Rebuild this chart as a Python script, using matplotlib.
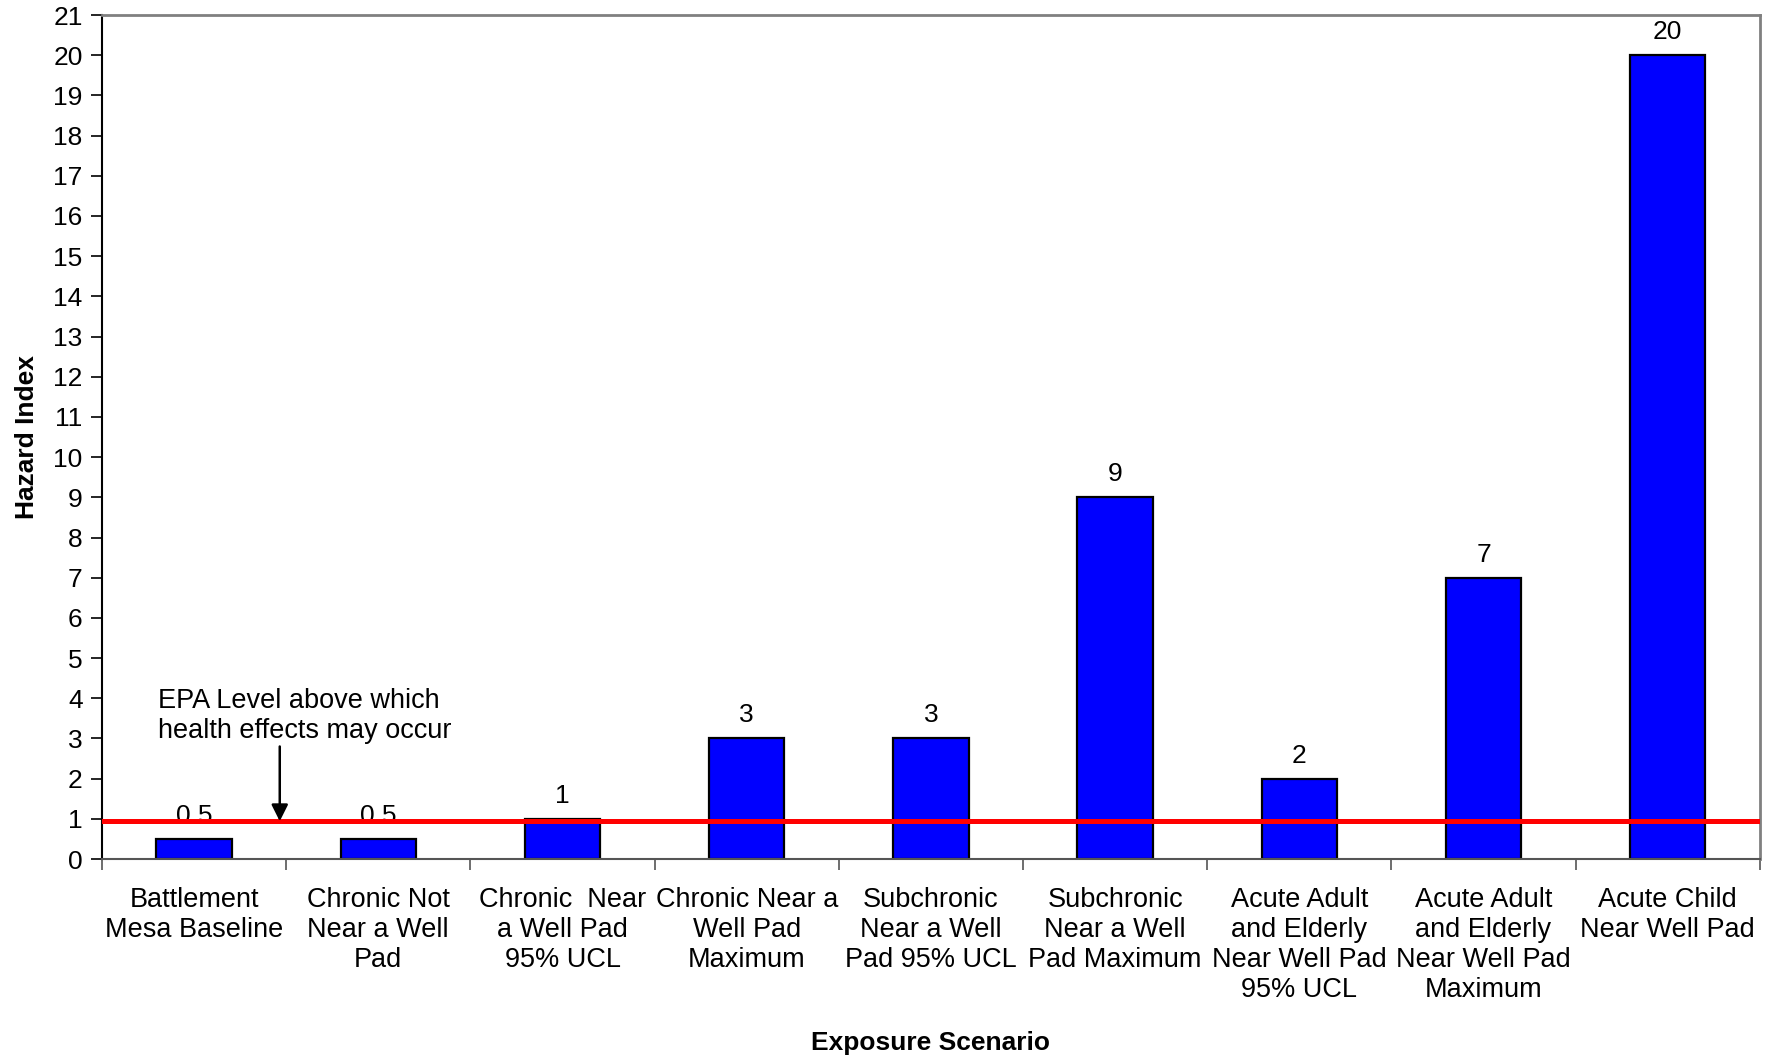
import matplotlib
matplotlib.use("Agg")
import matplotlib.pyplot as plt

plt.rcParams['font.family'] = ['Liberation Sans', 'DejaVu Sans']

scenarios = [
    "Battlement\nMesa Baseline",
    "Chronic Not\nNear a Well\nPad",
    "Chronic  Near\na Well Pad\n95% UCL",
    "Chronic Near a\nWell Pad\nMaximum",
    "Subchronic\nNear a Well\nPad 95% UCL",
    "Subchronic\nNear a Well\nPad Maximum",
    "Acute Adult\nand Elderly\nNear Well Pad\n95% UCL",
    "Acute Adult\nand Elderly\nNear Well Pad\nMaximum",
    "Acute Child\nNear Well Pad",
]
hazard_index = [0.5, 0.5, 1, 3, 3, 9, 2, 7, 20]
value_labels = ["0.5", "0.5", "1", "3", "3", "9", "2", "7", "20"]
epa_level = 0.94
y_ticks = list(range(0, 22))

fig = plt.figure(figsize=(17.74, 10.60), dpi=100)
ax = fig.add_axes([0.0575, 0.1896, 0.9345, 0.7962])

x = list(range(len(scenarios)))
ax.bar(x, hazard_index, width=0.41, color="#0000FF", edgecolor="black",
       linewidth=1.6, zorder=2)

for xi, v, lab in zip(x, hazard_index, value_labels):
    ax.annotate(lab, (xi, v), xytext=(0, 8), textcoords="offset points",
                ha="center", va="bottom", fontsize=19, zorder=3)

ax.axhline(epa_level, color="#FF0000", linewidth=3.6, zorder=4)

# Arrow pointing from the note down to the EPA reference line
ax.annotate("", xy=(0.465, epa_level), xytext=(0.465, 2.8),
            arrowprops=dict(arrowstyle="-|>,head_length=1.0,head_width=0.5",
                            color="black", linewidth=1.8, shrinkA=0, shrinkB=0),
            zorder=5)
ax.text(-0.195, 4.25, "EPA Level above which\nhealth effects may occur",
        ha="left", va="top", fontsize=19.5, linespacing=1.21, zorder=5)

ax.set_xlim(-0.5, len(scenarios) - 0.5)
ax.set_ylim(0, 21)
ax.set_yticks(y_ticks)
ax.set_yticklabels([str(t) for t in y_ticks], fontsize=19)

ax.set_xticks([i - 0.5 for i in range(len(scenarios) + 1)])
ax.set_xticklabels([])
ax.set_xticks(x, minor=True)
ax.set_xticklabels(scenarios, minor=True, fontsize=19.5, linespacing=1.21)
ax.tick_params(axis="x", which="major", direction="out", length=8, width=1.2, color="#555555")
ax.tick_params(axis="x", which="minor", length=0, pad=20)
ax.tick_params(axis="y", direction="out", length=8, width=1.2, pad=6)

for side in ("top", "right"):
    ax.spines[side].set_color("#808080")
    ax.spines[side].set_linewidth(2)
ax.spines["left"].set_color("black")
ax.spines["left"].set_linewidth(1.5)
ax.spines["bottom"].set_color("#555555")
ax.spines["bottom"].set_linewidth(1.5)

ax.set_ylabel("Hazard Index", fontsize=19, fontweight="bold", labelpad=10)
ax.set_xlabel("Exposure Scenario", fontsize=19, fontweight="bold", labelpad=20)

fig.savefig("out.png", dpi=100)
